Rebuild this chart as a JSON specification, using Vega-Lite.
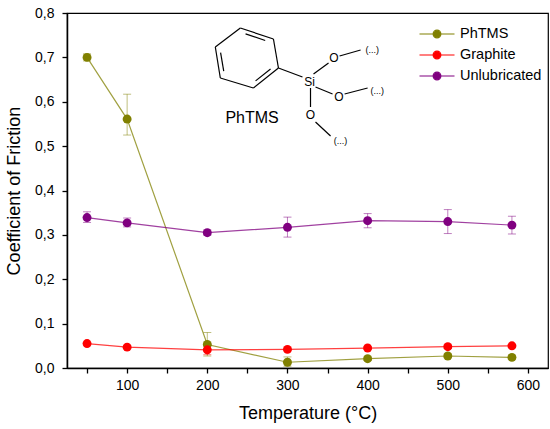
{
  "$schema": "https://vega.github.io/schema/vega-lite/v6.json",
  "width": 481,
  "height": 355,
  "autosize": {"type": "none"},
  "padding": {"left": 67, "top": 13, "right": 2, "bottom": 61},
  "background": "white",
  "config": {
    "font": "Liberation Sans",
    "view": {"stroke": "#000", "strokeWidth": 1.2},
    "axis": {
      "domainColor": "#000", "domainWidth": 1.5,
      "tickColor": "#000", "tickWidth": 1.3,
      "labelColor": "#000", "labelFontSize": 14, "labelFont": "Liberation Sans",
      "titleColor": "#000", "titleFontSize": 18, "titleFontWeight": "normal", "titleFont": "Liberation Sans",
      "grid": false, "labelOverlap": false
    }
  },
  "datasets": {
    "cof": [
      {"s": "PhTMS", "t": 50, "c": 0.700, "lo": 0.692, "hi": 0.708},
      {"s": "PhTMS", "t": 100, "c": 0.561, "lo": 0.525, "hi": 0.617},
      {"s": "PhTMS", "t": 200, "c": 0.053, "lo": 0.027, "hi": 0.080},
      {"s": "PhTMS", "t": 300, "c": 0.013, "lo": 0.004, "hi": 0.025},
      {"s": "PhTMS", "t": 400, "c": 0.021, "lo": 0.017, "hi": 0.025},
      {"s": "PhTMS", "t": 500, "c": 0.027, "lo": 0.023, "hi": 0.032},
      {"s": "PhTMS", "t": 580, "c": 0.024, "lo": 0.019, "hi": 0.029},
      {"s": "Graphite", "t": 50, "c": 0.055, "lo": 0.052, "hi": 0.058},
      {"s": "Graphite", "t": 100, "c": 0.047, "lo": 0.044, "hi": 0.050},
      {"s": "Graphite", "t": 200, "c": 0.041, "lo": 0.030, "hi": 0.052},
      {"s": "Graphite", "t": 300, "c": 0.042, "lo": 0.039, "hi": 0.045},
      {"s": "Graphite", "t": 400, "c": 0.045, "lo": 0.042, "hi": 0.048},
      {"s": "Graphite", "t": 500, "c": 0.048, "lo": 0.044, "hi": 0.052},
      {"s": "Graphite", "t": 580, "c": 0.050, "lo": 0.047, "hi": 0.053},
      {"s": "Unlubricated", "t": 50, "c": 0.339, "lo": 0.328, "hi": 0.352},
      {"s": "Unlubricated", "t": 100, "c": 0.327, "lo": 0.318, "hi": 0.338},
      {"s": "Unlubricated", "t": 200, "c": 0.305, "lo": 0.299, "hi": 0.311},
      {"s": "Unlubricated", "t": 300, "c": 0.317, "lo": 0.295, "hi": 0.340},
      {"s": "Unlubricated", "t": 400, "c": 0.332, "lo": 0.316, "hi": 0.348},
      {"s": "Unlubricated", "t": 500, "c": 0.330, "lo": 0.303, "hi": 0.357},
      {"s": "Unlubricated", "t": 580, "c": 0.322, "lo": 0.302, "hi": 0.342}
    ],
    "bonds": [
      {"x": 210, "y": 0.7234, "x2": 241.25, "y2": 0.7662},
      {"x": 241.25, "y": 0.7662, "x2": 282.5, "y2": 0.7414},
      {"x": 282.5, "y": 0.7414, "x2": 288.75, "y2": 0.6761},
      {"x": 288.75, "y": 0.6761, "x2": 257.5, "y2": 0.6310},
      {"x": 257.5, "y": 0.6310, "x2": 216.25, "y2": 0.6535},
      {"x": 216.25, "y": 0.6535, "x2": 210, "y2": 0.7234},
      {"x": 220.5, "y": 0.6691, "x2": 216.6, "y2": 0.7108},
      {"x": 247.75, "y": 0.7529, "x2": 272.25, "y2": 0.7380},
      {"x": 278.9, "y": 0.6736, "x2": 260.25, "y2": 0.6470},
      {"x": 288.75, "y": 0.6761, "x2": 318.75, "y2": 0.6558},
      {"x": 332.5, "y": 0.6625, "x2": 351.25, "y2": 0.6873},
      {"x": 365, "y": 0.7031, "x2": 391.25, "y2": 0.7166},
      {"x": 335, "y": 0.6332, "x2": 356.25, "y2": 0.6175},
      {"x": 371.25, "y": 0.6175, "x2": 400, "y2": 0.6310},
      {"x": 328.75, "y": 0.6310, "x2": 328.75, "y2": 0.5882},
      {"x": 335, "y": 0.5544, "x2": 353.75, "y2": 0.5228}
    ],
    "atoms": [
      {"t": "Si", "x": 327.5, "y": 0.6452},
      {"t": "O", "x": 357.9, "y": 0.6979},
      {"t": "O", "x": 364.1, "y": 0.6114},
      {"t": "O", "x": 328.75, "y": 0.5701},
      {"t": "(...)", "x": 405.9, "y": 0.7166},
      {"t": "(...)", "x": 412.1, "y": 0.6242},
      {"t": "(...)", "x": 366.25, "y": 0.5115},
      {"t": "PhTMS", "x": 255.9, "y": 0.5627}
    ]
  },
  "layer": [
    {
      "data": {"name": "bonds"},
      "mark": {"type": "rule", "color": "#000", "strokeWidth": 1.2},
      "encoding": {
        "x": {"field": "x", "type": "quantitative", "scale": {"domain": [25, 625], "nice": false, "zero": false}, "title": "Temperature (°C)"},
        "y": {"field": "y", "type": "quantitative", "scale": {"domain": [0, 0.8], "nice": false}, "title": "Coefficient of Friction"},
        "x2": {"field": "x2"},
        "y2": {"field": "y2"}
      }
    },
    {
      "data": {"name": "atoms"},
      "mark": {"type": "text", "color": "#000", "align": "center", "baseline": "middle", "font": "Liberation Sans"},
      "encoding": {
        "x": {"field": "x", "type": "quantitative", "title": "Temperature (°C)"},
        "y": {"field": "y", "type": "quantitative", "title": "Coefficient of Friction"},
        "text": {"field": "t"},
        "size": {
          "condition": [
            {"test": "datum.t === 'PhTMS'", "value": 16},
            {"test": "datum.t === '(...)'", "value": 9}
          ],
          "value": 12
        }
      }
    },
    {
      "data": {"name": "cof"},
      "mark": {"type": "errorbar", "ticks": {"size": 8}, "thickness": 1, "opacity": 0.5},
      "encoding": {
        "x": {"field": "t", "type": "quantitative", "title": "Temperature (°C)"},
        "y": {"field": "lo", "type": "quantitative", "title": "Coefficient of Friction"},
        "y2": {"field": "hi"},
        "color": {"field": "s", "type": "nominal",
          "scale": {"domain": ["PhTMS", "Graphite", "Unlubricated"], "range": ["#808000", "#ff0000", "#800080"]}}
      }
    },
    {
      "data": {"name": "cof"},
      "mark": {"type": "line", "strokeWidth": 1.2, "opacity": 0.75},
      "encoding": {
        "x": {"field": "t", "type": "quantitative", "title": "Temperature (°C)"},
        "y": {"field": "c", "type": "quantitative", "title": "Coefficient of Friction"},
        "color": {"field": "s", "type": "nominal"}
      }
    },
    {
      "data": {"name": "cof"},
      "mark": {"type": "point", "filled": true, "size": 80, "opacity": 1},
      "encoding": {
        "x": {
          "field": "t", "type": "quantitative", "title": "Temperature (°C)",
          "axis": {
            "values": [50, 100, 150, 200, 250, 300, 350, 400, 450, 500, 550, 600],
            "labelExpr": "datum.value % 100 === 0 ? datum.label : ''",
            "tickSize": 5, "labelPadding": 5, "titlePadding": 12
          }
        },
        "y": {
          "field": "c", "type": "quantitative", "title": "Coefficient of Friction",
          "axis": {
            "values": [0, 0.05, 0.1, 0.15, 0.2, 0.25, 0.3, 0.35, 0.4, 0.45, 0.5, 0.55, 0.6, 0.65, 0.7, 0.75, 0.8],
            "labelExpr": "round(datum.value * 100) % 10 === 0 ? replace(format(datum.value, '.1f'), '.', ',') : ''",
            "tickSize": 5, "labelPadding": 8, "titlePadding": 11
          }
        },
        "color": {
          "field": "s", "type": "nominal",
          "legend": {
            "orient": "none", "legendX": 362, "legendY": 13, "title": null,
            "symbolType": "M-2.5,0H2.5M-0.55,0A0.55,0.55,0,1,1,0.55,0A0.55,0.55,0,1,1,-0.55,0",
            "symbolSize": 196, "symbolStrokeWidth": 1.2, "symbolOpacity": 1,
            "labelFontSize": 14.5, "labelFont": "Liberation Sans", "labelColor": "#000",
            "labelOffset": 15, "rowPadding": 6,
            "encode": {"symbols": {"update": {"stroke": {"scale": "color", "field": "value"}, "fill": {"scale": "color", "field": "value"}}}}
          }
        }
      }
    }
  ]
}
